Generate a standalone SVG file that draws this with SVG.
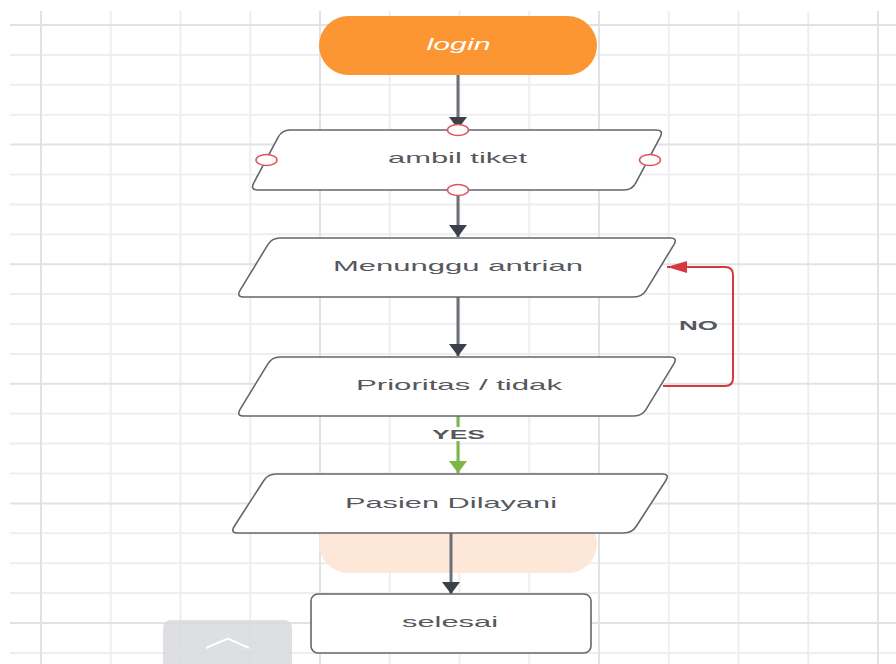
<svg xmlns="http://www.w3.org/2000/svg" width="896" height="664" viewBox="0 0 896 664">
<defs>
<style>
.g{stroke:#eeeeef;stroke-width:2}
.gd{stroke:#e2e2e4;stroke-width:2}
.shape{fill:#fff;stroke:#63666c;stroke-width:1.6}
.lbl{font-family:"Liberation Sans",Arial,sans-serif;font-size:15px;fill:#55585e;text-anchor:middle}
.elbl{font-family:"Liberation Sans",Arial,sans-serif;font-size:13px;font-weight:bold;fill:#55585e;text-anchor:middle}
.conn{fill:none;stroke:#6b6f76;stroke-width:3}
.pt{fill:#fff;stroke:#e0525a;stroke-width:1.5}
</style>
<marker id="ah" viewBox="0 0 12 18" refX="12" refY="9" markerWidth="12" markerHeight="18" markerUnits="userSpaceOnUse" orient="auto"><path d="M0,0 L12,9 L0,18 Z" fill="#3b404a"/></marker>
<marker id="ahg" viewBox="0 0 12 18" refX="12" refY="9" markerWidth="12" markerHeight="18" markerUnits="userSpaceOnUse" orient="auto"><path d="M0,0 L12,9 L0,18 Z" fill="#7ab648"/></marker>
<marker id="ahr" viewBox="0 0 20 12" refX="20" refY="6" markerWidth="20" markerHeight="12" markerUnits="userSpaceOnUse" orient="auto"><path d="M0,0 L20,6 L0,12 Z" fill="#d7373f"/></marker>
</defs>
<rect width="896" height="664" fill="#fff"/>
<g id="grid">
<line class="g" x1="10" y1="54.9" x2="896" y2="54.9"/>
<line class="g" x1="10" y1="84.8" x2="896" y2="84.8"/>
<line class="g" x1="10" y1="114.7" x2="896" y2="114.7"/>
<line class="g" x1="10" y1="174.5" x2="896" y2="174.5"/>
<line class="g" x1="10" y1="204.4" x2="896" y2="204.4"/>
<line class="g" x1="10" y1="234.3" x2="896" y2="234.3"/>
<line class="g" x1="10" y1="294.1" x2="896" y2="294.1"/>
<line class="g" x1="10" y1="324" x2="896" y2="324"/>
<line class="g" x1="10" y1="353.9" x2="896" y2="353.9"/>
<line class="g" x1="10" y1="413.7" x2="896" y2="413.7"/>
<line class="g" x1="10" y1="443.6" x2="896" y2="443.6"/>
<line class="g" x1="10" y1="473.5" x2="896" y2="473.5"/>
<line class="g" x1="10" y1="533.3" x2="896" y2="533.3"/>
<line class="g" x1="10" y1="563.2" x2="896" y2="563.2"/>
<line class="g" x1="10" y1="593.1" x2="896" y2="593.1"/>
<line class="g" x1="10" y1="652.9" x2="896" y2="652.9"/>
<line class="g" x1="110.75" y1="11" x2="110.75" y2="664"/>
<line class="g" x1="180.5" y1="11" x2="180.5" y2="664"/>
<line class="g" x1="250.25" y1="11" x2="250.25" y2="664"/>
<line class="g" x1="389.75" y1="11" x2="389.75" y2="664"/>
<line class="g" x1="459.5" y1="11" x2="459.5" y2="664"/>
<line class="g" x1="529.25" y1="11" x2="529.25" y2="664"/>
<line class="g" x1="668.75" y1="11" x2="668.75" y2="664"/>
<line class="g" x1="738.5" y1="11" x2="738.5" y2="664"/>
<line class="g" x1="808.25" y1="11" x2="808.25" y2="664"/>
<line class="gd" x1="10" y1="25" x2="896" y2="25"/>
<line class="gd" x1="10" y1="144.6" x2="896" y2="144.6"/>
<line class="gd" x1="10" y1="264.2" x2="896" y2="264.2"/>
<line class="gd" x1="10" y1="383.8" x2="896" y2="383.8"/>
<line class="gd" x1="10" y1="503.4" x2="896" y2="503.4"/>
<line class="gd" x1="10" y1="623" x2="896" y2="623"/>
<line class="gd" x1="41" y1="11" x2="41" y2="664"/>
<line class="gd" x1="320" y1="11" x2="320" y2="664"/>
<line class="gd" x1="599" y1="11" x2="599" y2="664"/>
<line class="gd" x1="878" y1="11" x2="878" y2="664"/>
</g>
<g id="end-bg">
<rect x="319" y="514" width="278" height="59" rx="29.5" fill="#fde7d8"/>
</g>
<g id="connectors">
<line class="conn" x1="458" y1="75" x2="458" y2="129" marker-end="url(#ah)"/>
<line class="conn" x1="458" y1="190" x2="458" y2="237" marker-end="url(#ah)"/>
<line class="conn" x1="458" y1="297" x2="458" y2="356" marker-end="url(#ah)"/>
<line fill="none" stroke="#7ab648" stroke-width="3" x1="458" y1="416" x2="458" y2="473" marker-end="url(#ahg)"/>
<path d="M663,386 L725,386 Q733,386 733,378 L733,275 Q733,267 725,267 L667,267" fill="none" stroke="#d7373f" stroke-width="2" marker-end="url(#ahr)"/>
<line class="conn" x1="451" y1="533" x2="451" y2="594" marker-end="url(#ah)"/>
<rect x="446" y="427" width="24" height="14" fill="#fff"/>
<text class="elbl" x="458.5" y="439" textLength="53" lengthAdjust="spacingAndGlyphs">YES</text>
<text class="elbl" x="698.5" y="330" textLength="39" lengthAdjust="spacingAndGlyphs">NO</text>
</g>
<g id="login">
<rect x="319" y="16" width="278" height="59" rx="29.5" fill="#fb9633"/>
<text x="458.5" y="50" font-family="'Liberation Sans',Arial,sans-serif" font-size="16" font-style="italic" fill="#fff" text-anchor="middle" textLength="64" lengthAdjust="spacingAndGlyphs">login</text>
</g>
<g id="ambil-tiket">
<path class="shape" d="M290,130 L656,130 Q664,130 660.2,137.1 L635.8,182.9 Q632,190 624,190 L258,190 Q250,190 253.8,182.9 L278.2,137.1 Q282,130 290,130 Z"/>
<text class="lbl" x="457.5" y="163" textLength="139" lengthAdjust="spacingAndGlyphs">ambil tiket</text>
<ellipse class="pt" cx="458" cy="130" rx="10.5" ry="5.5"/>
<ellipse class="pt" cx="458" cy="190" rx="10.5" ry="5.5"/>
<ellipse class="pt" cx="266.5" cy="160" rx="10.5" ry="5.5"/>
<ellipse class="pt" cx="650" cy="160" rx="10.5" ry="5.5"/>
</g>
<g id="menunggu">
<path class="shape" d="M280,238 L670,238 Q678,238 673.8,244.8 L646.2,290.2 Q642,297 634,297 L244,297 Q236,297 240.2,290.2 L267.8,244.8 Q272,238 280,238 Z"/>
<text class="lbl" x="458" y="271" textLength="250" lengthAdjust="spacingAndGlyphs">Menunggu antrian</text>
</g>
<g id="prioritas">
<path class="shape" d="M280,357 L670,357 Q678,357 673.8,363.8 L646.2,409.2 Q642,416 634,416 L244,416 Q236,416 240.2,409.2 L267.8,363.8 Q272,357 280,357 Z"/>
<text class="lbl" x="459" y="390" textLength="206" lengthAdjust="spacingAndGlyphs">Prioritas / tidak</text>
</g>
<g id="pasien">
<path class="shape" d="M276,474 L662,474 Q670,474 665.7,480.7 L636.3,526.3 Q632,533 624,533 L238,533 Q230,533 234.3,526.3 L263.7,480.7 Q268,474 276,474 Z"/>
<text class="lbl" x="451" y="508" textLength="212" lengthAdjust="spacingAndGlyphs">Pasien Dilayani</text>
</g>
<g id="selesai">
<rect class="shape" x="311" y="594" width="280" height="59" rx="7" stroke-width="2.2"/>
<text class="lbl" x="450" y="627" textLength="96" lengthAdjust="spacingAndGlyphs">selesai</text>
</g>
<g id="scroll-button">
<rect x="163" y="620" width="129" height="60" rx="8" fill="#d8d9dc" fill-opacity="0.85"/>
<polyline points="206,648 228,638.5 249,648" fill="none" stroke="#fff" stroke-width="2"/>
</g>
</svg>
